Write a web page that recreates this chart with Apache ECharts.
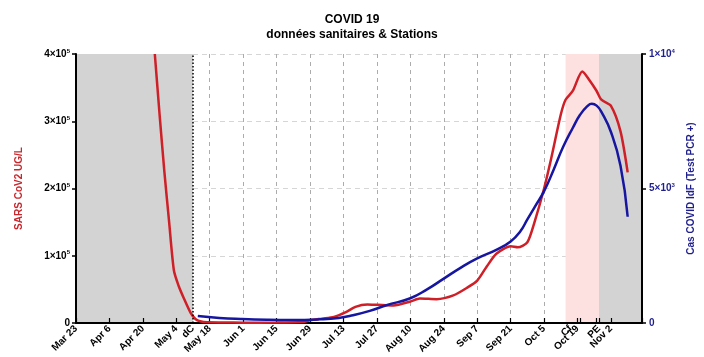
<!DOCTYPE html>
<html>
<head>
<meta charset="utf-8">
<script src="https://cdn.jsdelivr.net/npm/echarts@6/dist/echarts.min.js"></script>
<style>html,body{margin:0;padding:0;background:#fff}#c{width:704px;height:357px}</style>
</head>
<body>
<div id="c"></div>
<script>
// Days counted from Mar 23
const totalDays = 237;
const labelDays  = [0,14,28,42,49,56,70,84,98,112,126,140,154,168,182,196,207,210,219,224];
const labelTexts = ['Mar 23','Apr 6','Apr 20','May 4','dC','May 18','Jun 1','Jun 15','Jun 29','Jul 13','Jul 27','Aug 10','Aug 24','Sep 7','Sep 21','Oct 5','Cf','Oct 19','PE','Nov 2'];
const tickDays   = [0,14,28,42,56,70,84,98,112,126,140,154,168,182,196,210,211,218,219,224];
const gridDays   = [14,28,42,56,70,84,98,112,126,140,154,168,182,196,210,224];

// SARS CoV2 UG/L (left axis)
const redDays   = [33,35,37,39,41,43,45,48,50,52,55,62,70,84,95,98,103,108,113,117,122,126,133,140,144,151,158,164,168,172,176,182,185,189,192,196,199,203,205,208,212,215,218,220,224,228,231];
const redValues = [400000,310000,225000,150000,78000,55000,38000,15000,6000,2500,1000,800,500,600,1500,4000,6500,9000,16000,24000,27500,27000,26000,32000,36500,35500,41000,53000,63000,84000,103000,114000,112500,120000,150000,200000,245000,310000,332000,345000,374000,361000,345000,332000,323000,285000,224000];

// Cas COVID IdF (right axis)
const blueDays   = [51,60,69,80,90,102,110,116,123,130,140,147,154,161,168,176,182,186,189,192,196,200,204,208,211,214,216,218,220,224,228,231];
const blueValues = [260,190,150,120,110,135,190,290,450,660,920,1250,1650,2050,2400,2720,3030,3400,3850,4300,4900,5700,6550,7250,7730,8050,8150,8080,7850,7100,5850,3950];

// periods
const greyPeriods = [[0,49],[219,237]];
const pinkPeriods = [[205,219]];
const dottedDay = 49;

const cats = [];
for (let i = 0; i <= totalDays; i++) cats.push(String(i));
const labelMap = {};
labelDays.forEach((d,i)=>labelMap[d]=labelTexts[i]);
// the renderer drops the final selected index, so a sentinel at the axis end is appended
const labelSel = labelDays.concat([totalDays]);
const tickSel  = tickDays.concat([totalDays]);
const gridSel  = gridDays.concat([totalDays]);

const FONT = "'Liberation Sans', Arial, sans-serif";
const RED = '#cf1f27';
const BLUE = '#1616a0';
const NAVY = '#1f1f8c';

function sci(v, exp){
  if (v === 0) return '{a|0}';
  return '{a|' + v + '×10}{s|' + exp + '}';
}

const chart = echarts.init(document.getElementById('c'), null, {renderer:'canvas'});
chart.setOption({
  animation:false,
  textStyle:{fontFamily:FONT},
  title:{
    text:'COVID 19', subtext:'données sanitaires & Stations',
    left:'center', top:9, itemGap:3,
    textStyle:{fontFamily:FONT, fontSize:12, fontWeight:'bold', color:'#000'},
    subtextStyle:{fontFamily:FONT, fontSize:12, fontWeight:'bold', color:'#000'}
  },
  grid:{left:76, right:62, top:54, bottom:34, containLabel:false},
  xAxis:{
    type:'category', data:cats, boundaryGap:false, z:1,
    axisLine:{lineStyle:{color:'#000', width:2}},
    axisTick:{inside:true, length:5, lineStyle:{color:'#000', width:1.2},
      interval:(i)=>tickSel.indexOf(i) >= 0},
    axisLabel:{rotate:45, margin:4, fontSize:10, fontWeight:'bold', color:'#000', fontFamily:FONT,
      hideOverlap:false,
      interval:(i)=>labelSel.indexOf(i) >= 0,
      formatter:(v,i)=>labelMap[i] || ''},
    splitLine:{show:true, interval:(i)=>gridSel.indexOf(i) >= 0,
      lineStyle:{color:'#acacac', type:[4,4], width:1}}
  },
  yAxis:[{
    type:'value', min:0, max:400000, interval:100000, z:1,
    name:'SARS CoV2 UG/L', nameLocation:'middle', nameRotate:90, nameGap:52,
    nameTextStyle:{color:'#c8282d', fontWeight:'bold', fontSize:10, fontFamily:FONT},
    axisLine:{show:true, lineStyle:{color:'#000', width:2}},
    axisTick:{show:true, length:4, lineStyle:{color:'#000', width:1.5}},
    axisLabel:{margin:6, formatter:(v)=>sci(v/100000,5),
      rich:{a:{fontSize:10, fontWeight:'bold', color:'#000', fontFamily:FONT, lineHeight:12},
            s:{fontSize:6, fontWeight:'bold', color:'#000', fontFamily:FONT, verticalAlign:'top', lineHeight:12}}},
    splitLine:{show:true, lineStyle:{color:'#d6d6d6', type:[5,4], width:1}}
  },{
    type:'value', min:0, max:10000, interval:5000, position:'right', z:1,
    name:'Cas COVID IdF (Test PCR +)', nameLocation:'middle', nameRotate:90, nameGap:42,
    nameTextStyle:{color:NAVY, fontWeight:'bold', fontSize:10, fontFamily:FONT},
    axisLine:{show:true, lineStyle:{color:'#000', width:2}},
    axisTick:{show:true, length:4, lineStyle:{color:'#000', width:1.5}},
    axisLabel:{margin:7, formatter:(v)=> v===0 ? '{a|0}' : sci(v/(v>=10000?10000:1000), v>=10000?4:3),
      rich:{a:{fontSize:10, fontWeight:'bold', color:NAVY, fontFamily:FONT, lineHeight:12},
            s:{fontSize:6, fontWeight:'bold', color:NAVY, fontFamily:FONT, verticalAlign:'top', lineHeight:12}}},
    splitLine:{show:false}
  }],
  series:[{
    type:'line', data:[], z:-1, silent:true,
    markArea:{silent:true,
      data: greyPeriods.map(p=>[{xAxis:p[0], itemStyle:{color:'#d3d3d3'}},{xAxis:p[1]}])
        .concat(pinkPeriods.map(p=>[{xAxis:p[0], itemStyle:{color:'#fde0e0'}},{xAxis:p[1]}]))
    }
  },{
    type:'line', data:[], z:3, silent:true,
    markLine:{silent:true, symbol:'none', label:{show:false},
      lineStyle:{color:'#000', type:[1.5,2], width:1.5},
      data:[{xAxis:dottedDay}]}
  },{
    name:'SARS', type:'line', yAxisIndex:0, z:4,
    data: redDays.map((d,i)=>[d, redValues[i]]),
    smooth:0.25, showSymbol:false, symbol:'none',
    lineStyle:{color:RED, width:2.5}
  },{
    name:'Cas', type:'line', yAxisIndex:1, z:5,
    data: blueDays.map((d,i)=>[d, blueValues[i]]),
    smooth:0.5, showSymbol:false, symbol:'none',
    lineStyle:{color:BLUE, width:2.5}
  }]
});
</script>
</body>
</html>
